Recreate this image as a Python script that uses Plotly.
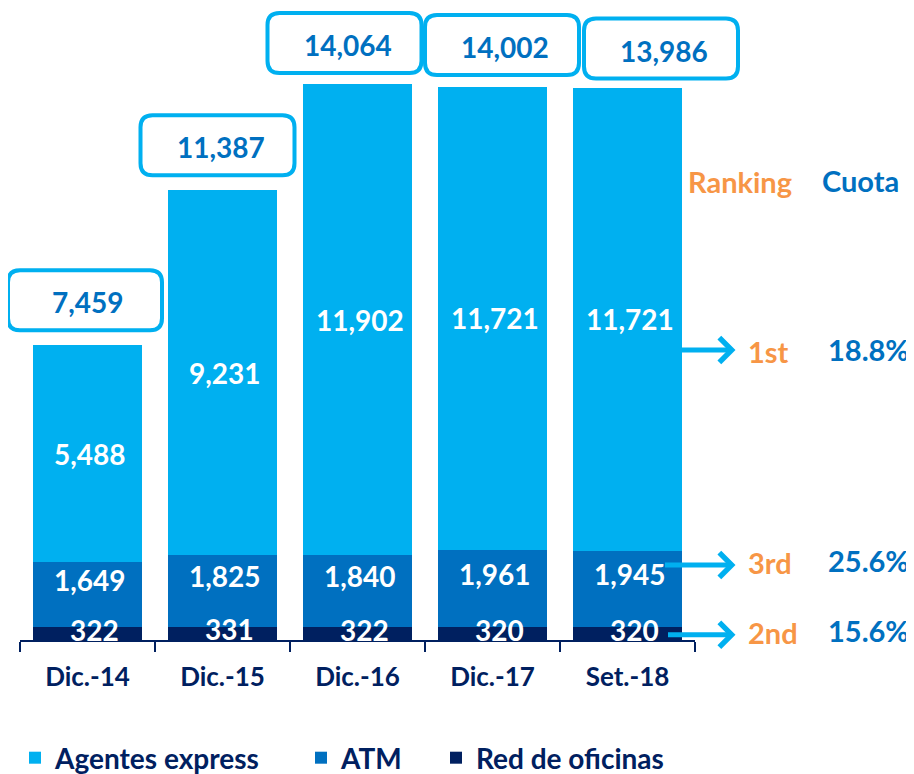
import plotly.graph_objects as go

# ---------------- data ----------------
categories = ['Dic.-14', 'Dic.-15', 'Dic.-16', 'Dic.-17', 'Set.-18']
agentes_express = [5488, 9231, 11902, 11721, 11721]
atm = [1649, 1825, 1840, 1961, 1945]
red_oficinas = [322, 331, 322, 320, 320]
totals = [7459, 11387, 14064, 14002, 13986]
series_names = ['Agentes express', 'ATM', 'Red de oficinas']
ranking = ['1st', '3rd', '2nd']          # for Agentes express, ATM, Red de oficinas
cuota = ['18.8%', '25.6%', '15.6%']
header_ranking = 'Ranking'
header_cuota = 'Cuota'

# ---------------- style ----------------
C_AGE = '#00B0F0'
C_ATM = '#0070C0'
C_RED = '#002060'
NAVY = '#002060'
ORANGE = '#F79646'
FONT = 'Lato'

# the page body adds an 8px margin, so the figure is 8px smaller than the window
W, H = 906, 766
ML, MR, MT, MB = 12, 219, 0, 134
PX_PER_UNIT = 0.0395
plot_h = H - MT - MB
plot_w = W - ML - MR
y_max = plot_h / PX_PER_UNIT

fig = go.Figure()

stack = [
    (series_names[2], red_oficinas, C_RED, 'legend3'),
    (series_names[1], atm, C_ATM, 'legend2'),
    (series_names[0], agentes_express, C_AGE, 'legend'),
]
for name, vals, col, leg in stack:
    fig.add_trace(go.Bar(
        x=categories, y=vals, name=name, legend=leg,
        marker=dict(color=col, line=dict(width=0)),
        hoverinfo='skip', showlegend=True,
    ))

annotations = []
shapes = []

# segment labels (centered in each segment)
label_shift = {series_names[0]: (2, 0), series_names[1]: (2, 15), series_names[2]: (7, 4)}
bases = [0] * len(categories)
for name, vals, col, leg in stack:
    dx, dy = label_shift[name]
    for i, cat in enumerate(categories):
        annotations.append(dict(
            x=cat, y=bases[i] + vals[i] / 2, xref='x', yref='y',
            text=f'{vals[i]:,}', showarrow=False, xshift=dx, yshift=dy,
            font=dict(family=FONT, size=28, color='white', weight='bold'),
            xanchor='center', yanchor='middle',
        ))
    bases = [b + v for b, v in zip(bases, vals)]

# total boxes (rounded rectangles) above each bar
box_dx = [-2.5, -5, -13, 9.5, 33.5]
box_gap = [13, 13, 9.5, 10, 7]
BW, BH, R = 154, 60, 12
n = len(categories)
for i, cat in enumerate(categories):
    x0 = box_dx[i] - BW / 2
    x1 = box_dx[i] + BW / 2
    y0 = box_gap[i] + 2
    y1 = y0 + BH
    path = (f'M{x0+R},{y0} L{x1-R},{y0} Q{x1},{y0} {x1},{y0+R} '
            f'L{x1},{y1-R} Q{x1},{y1} {x1-R},{y1} L{x0+R},{y1} '
            f'Q{x0},{y1} {x0},{y1-R} L{x0},{y0+R} Q{x0},{y0} {x0+R},{y0} Z')
    shapes.append(dict(
        type='path', path=path, xref='paper', yref='y',
        xsizemode='pixel', ysizemode='pixel',
        xanchor=(i + 0.5) / n, yanchor=totals[i],
        line=dict(color=C_AGE, width=4), fillcolor='white', layer='above',
    ))
    annotations.append(dict(
        x=cat, y=totals[i], xref='x', yref='y', text=f'{totals[i]:,}',
        showarrow=False, xshift=box_dx[i] + 3, yshift=box_gap[i] + 2 + BH / 2 - 2,
        font=dict(family=FONT, size=28, color=C_ATM, weight='bold'),
        xanchor='center', yanchor='middle',
    ))

# arrows + ranking + cuota for the last period
last = categories[-1]
seg_vals = [agentes_express[-1], atm[-1], red_oficinas[-1]]
seg_base = [red_oficinas[-1] + atm[-1], red_oficinas[-1], 0]
arrow_dy = [-31, 24, -1]
arrow_ax = [-55, -72, -69]
rank_dy = [-32, 26, 1]
cuota_dy = [-30, 28, 3]
for k in range(3):
    ymid = seg_base[k] + seg_vals[k] / 2
    annotations.append(dict(
        x=last, y=ymid, xref='x', yref='y', text='', showarrow=True,
        xshift=108, yshift=arrow_dy[k], ax=arrow_ax[k], ay=0,
        arrowhead=4, arrowsize=0.95, arrowwidth=5, arrowcolor=C_AGE,
    ))
    annotations.append(dict(
        x=last, y=ymid, xref='x', yref='y', text=ranking[k], showarrow=False,
        xshift=118.5, yshift=rank_dy[k], xanchor='left', yanchor='middle',
        font=dict(family=FONT, size=29, color=ORANGE, weight='bold'),
    ))
    annotations.append(dict(
        x=last, y=ymid, xref='x', yref='y', text=cuota[k], showarrow=False,
        xshift=240.5, yshift=cuota_dy[k], xanchor='center', yanchor='middle',
        font=dict(family=FONT, size=29, color=C_ATM, weight='bold'),
    ))

OFF = 8  # body margin offset


def px_x(x):
    return (x - OFF - ML) / plot_w


def px_y(y):
    return (plot_h - (y - OFF - MT)) / plot_h


annotations.append(dict(
    x=px_x(740), y=px_y(181), xref='paper', yref='paper',
    text=header_ranking, showarrow=False, xanchor='center', yanchor='middle',
    font=dict(family=FONT, size=29, color=ORANGE, weight='bold'),
))
annotations.append(dict(
    x=px_x(860), y=px_y(180), xref='paper', yref='paper',
    text=header_cuota, showarrow=False, xanchor='center', yanchor='middle',
    font=dict(family=FONT, size=29, color=C_ATM, weight='bold'),
))

legend_font = dict(family=FONT, size=28, color=NAVY, weight='bold')


def leg(xpx):
    return dict(orientation='h', x=px_x(xpx), y=px_y(758), xanchor='left',
                yanchor='middle', font=legend_font, bgcolor='rgba(0,0,0,0)',
                borderwidth=0)


fig.update_layout(
    width=W, height=H, autosize=False,
    margin=dict(l=ML, r=MR, t=MT, b=MB, pad=0, autoexpand=False),
    paper_bgcolor='white', plot_bgcolor='white',
    barmode='stack', bargap=0.193,
    xaxis=dict(
        type='category', categoryorder='array', categoryarray=categories,
        range=[-0.5, len(categories) - 0.5],
        showline=True, linecolor=NAVY, linewidth=2,
        ticks='outside', tickson='boundaries', ticklen=10, tickwidth=2, tickcolor=NAVY,
        tickfont=dict(family=FONT, size=26, color=NAVY, weight='bold'),
        ticklabelstandoff=13, showgrid=False, zeroline=False, fixedrange=True,
        automargin=False,
    ),
    yaxis=dict(range=[0, y_max], showgrid=False, zeroline=False, showticklabels=False,
               showline=False, ticks='', fixedrange=True, automargin=False),
    legend=leg(15),
    legend2=leg(301),
    legend3=leg(436),
    annotations=annotations,
    shapes=shapes,
    showlegend=True,
)

fig.write_html('out.html')
